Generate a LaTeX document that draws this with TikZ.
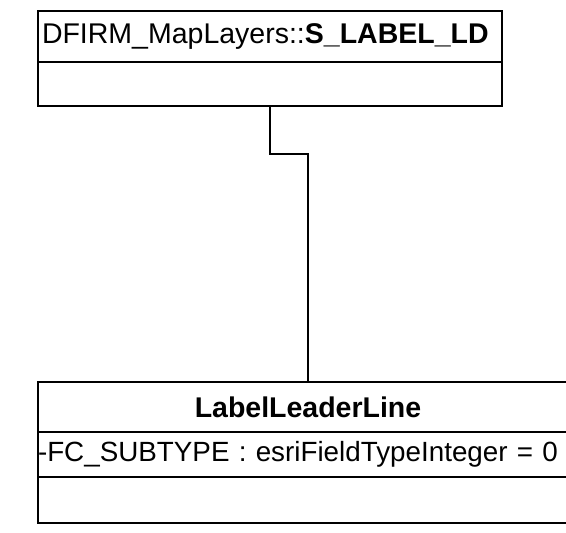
\documentclass[tikz,border=0pt]{standalone}
\usepackage{fontspec}
\setmainfont{Liberation Sans}
\usetikzlibrary{arrows,positioning}
\tikzstyle{part}=[draw, line width=1pt, inner ysep=0pt, outer sep=0pt, font=\fontsize{14.25}{16}\selectfont]

\begin{document}
\begin{tikzpicture}[node distance=0pt,auto,>=latex']
        \useasboundingbox (0,0) rectangle (283pt,-266.5pt);
        % S_LABEL_LD class
        \node [part,anchor=north west,inner xsep=2pt,text width=228pt,align=left,minimum height=25.5pt] (ld1) at (19pt,-5.5pt) {DFIRM\_MapLayers::\textbf{S\_LABEL\_LD}};
        \node [part,inner xsep=0pt,text width=232pt,minimum height=22pt] (ld2) [below=of ld1] {};
        % LabelLeaderLine class
        \node [part,inner xsep=0pt,text width=270pt,align=center,minimum height=25pt] (ll1) [below=138pt of ld2.south west,anchor=north west] {\textbf{LabelLeaderLine}};
        \node [part,inner xsep=0pt,text width=270pt,align=left,minimum height=22.5pt,font=\fontsize{13.9}{16}\selectfont] (ll2) [below=of ll1] {-FC\_SUBTYPE : esriFieldTypeInteger = 0};
        \node [part,inner xsep=0pt,text width=270pt,minimum height=23pt] (ll3) [below=of ll2] {};
        \draw[line width=1pt] (ld2.south) -- ++(0,-24pt) -| (ll1.north);
    \end{tikzpicture}
\end{document}
